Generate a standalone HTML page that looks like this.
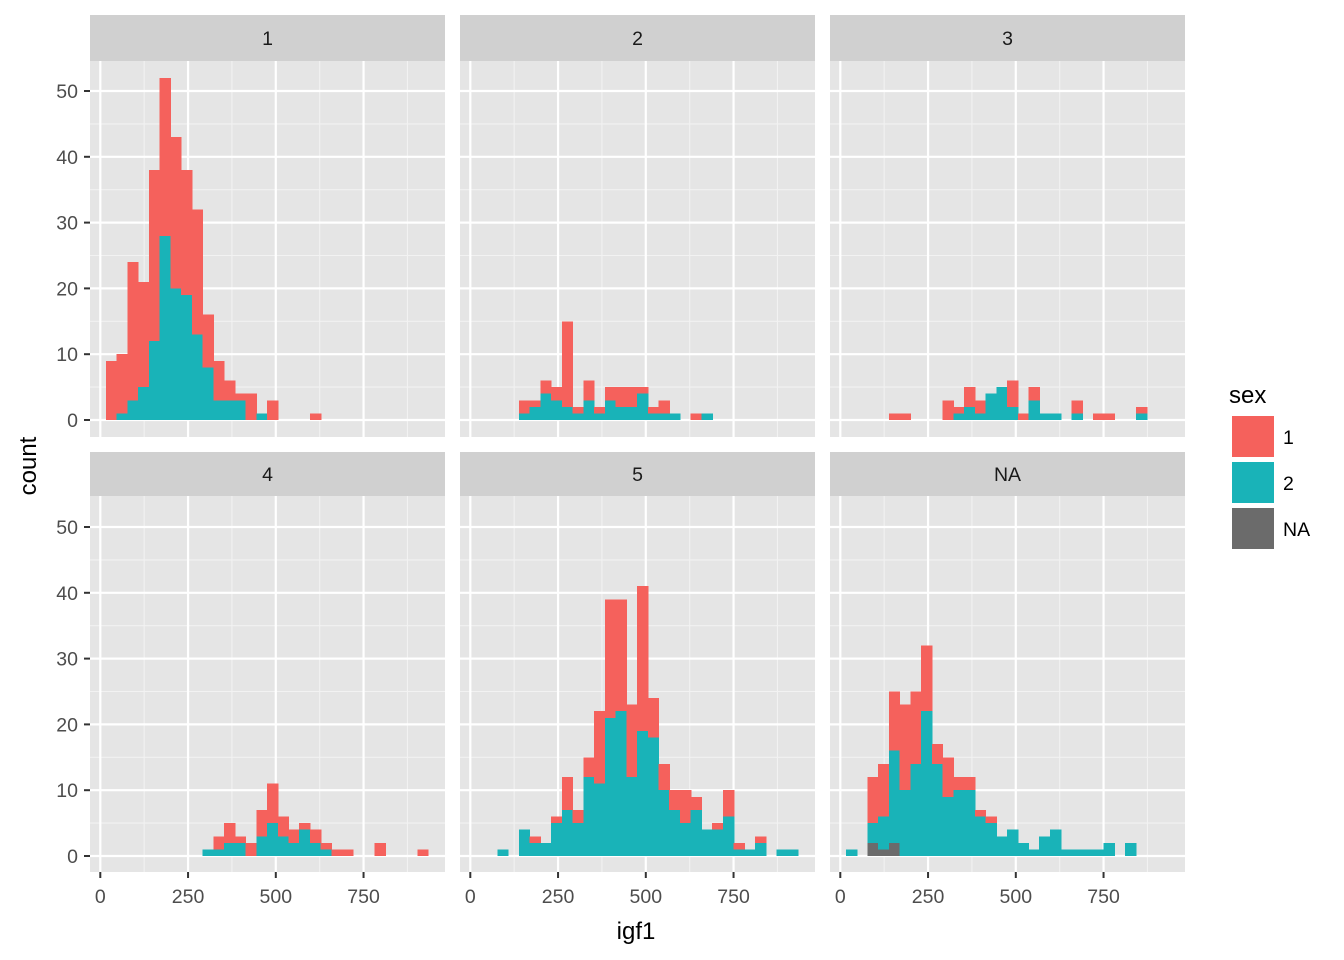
<!DOCTYPE html>
<html><head><meta charset="utf-8"><style>
body{margin:0;background:#fff}
svg{display:block;font-family:"Liberation Sans",Arial,sans-serif}
</style></head><body>
<svg id="chart" width="1344" height="960" xmlns="http://www.w3.org/2000/svg"></svg>
<script>
const panelLabels = ["1","2","3","4","5","NA"];
const binStart = 16;
const binWidth = 30.6;
const red1 = [9,9,21,16,26,24,23,19,19,8,6,3,1,4,0,3,0,0,0,1,0,0,0,0,0,0,0,0,0,0];
const teal1 = [0,1,3,5,12,28,20,19,13,8,3,3,3,0,1,0,0,0,0,0,0,0,0,0,0,0,0,0,0,0];
const red2 = [0,0,0,0,2,1,2,2,13,1,3,1,2,3,3,1,1,2,0,0,1,0,0,0,0,0,0,0,0,0];
const teal2 = [0,0,0,0,1,2,4,3,2,1,3,1,3,2,2,4,1,1,1,0,0,1,0,0,0,0,0,0,0,0];
const red3 = [0,0,0,0,1,1,0,0,0,3,1,3,2,0,0,4,1,2,0,0,0,2,0,1,1,0,0,1,0,0];
const teal3 = [0,0,0,0,0,0,0,0,0,0,1,2,1,4,5,2,0,3,1,1,0,1,0,0,0,0,0,1,0,0];
const red4 = [0,0,0,0,0,0,0,0,0,0,2,3,1,2,4,6,3,2,1,2,1,1,1,0,0,2,0,0,0,1];
const teal4 = [0,0,0,0,0,0,0,0,0,1,1,2,2,0,3,5,3,2,4,2,1,0,0,0,0,0,0,0,0,0];
const red5 = [0,0,0,0,0,1,0,1,5,2,3,11,18,17,11,22,6,4,3,5,2,0,1,4,1,0,1,0,0,0];
const teal5 = [0,0,1,0,4,2,2,5,7,5,12,11,21,22,12,19,18,10,7,5,7,4,4,6,1,1,2,0,1,1];
const red6 = [0,0,7,8,9,13,11,10,3,6,2,2,1,1,0,0,0,0,0,0,0,0,0,0,0,0,0,0,0,0];
const teal6 = [1,0,3,5,14,10,14,22,14,9,10,10,6,5,3,4,2,1,3,4,1,1,1,1,2,0,2,0,0,0];
const na6 = [0,0,2,1,2,0,0,0,0,0,0,0,0,0,0,0,0,0,0,0,0,0,0,0,0,0,0,0,0,0];
const xTicks = [0,250,500,750];
const yTicks = [0,10,20,30,40,50];
const legendLabels = ["1","2","NA"];

const NS="http://www.w3.org/2000/svg";
const svg=document.getElementById('chart');
function mk(tag,attrs,parent){const e=document.createElementNS(NS,tag);for(const k in attrs)e.setAttribute(k,attrs[k]);(parent||svg).appendChild(e);return e;}
const COL={red:"#f5615c",teal:"#19b3b8",na:"#6b6b6b"};
const colsX=[90,460,830], PW=355;
const rows=[{strip:15,top:61,bot:437,zero:420},{strip:452,top:496,bot:872,zero:856}];
const pxPerUnitY=6.58, pxPerUnitX=0.351;
const panels=[[red1,teal1,null],[red2,teal2,null],[red3,teal3,null],[red4,teal4,null],[red5,teal5,null],[red6,teal6,na6]];
function xs(c,v){return colsX[c]+10.3+v*pxPerUnitX;}
function ys(r,v){return rows[r].zero-v*pxPerUnitY;}

panels.forEach((pd,i)=>{
  const c=i%3,r=Math.floor(i/3),R=rows[r],x0=colsX[c];
  const g=mk('g',{});
  
  
  const bg=mk('rect',{x:x0,y:R.top,width:PW,height:R.bot-R.top,fill:"#e5e5e5"},g);
  
  
  for(let v=5;v<60;v+=10){const y=ys(r,v);if(y>R.top&&y<R.bot)mk('line',{x1:x0,x2:x0+PW,y1:y,y2:y,stroke:"#f2f2f2","stroke-width":1.1},g);}
  for(let v=125;v<1000;v+=250){const x=xs(c,v);if(x<x0+PW)mk('line',{x1:x,x2:x,y1:R.top,y2:R.bot,stroke:"#f2f2f2","stroke-width":1.1},g);}
  yTicks.forEach(v=>{const y=ys(r,v);mk('line',{x1:x0,x2:x0+PW,y1:y,y2:y,stroke:"#fff","stroke-width":2.2},g);});
  xTicks.forEach(v=>{const x=xs(c,v);mk('line',{x1:x,x2:x,y1:R.top,y2:R.bot,stroke:"#fff","stroke-width":2.2},g);});
  const [red,teal,na]=pd;
  for(let b=0;b<red.length;b++){
    const xa=xs(c,binStart+b*binWidth), xb=xs(c,binStart+(b+1)*binWidth);
    let base=0;
    const segs=[[na?na[b]:0,COL.na,'na'],[teal[b],COL.teal,'sex-2'],[red[b],COL.red,'sex-1']];
    segs.forEach(([n,col,nm])=>{
      if(n>0){
        const y1=ys(r,base+n),y0=ys(r,base);
        const rc=mk('rect',{x:xa,y:y1,width:xb-xa+0.6,height:y0-y1,fill:col,"shape-rendering":"crispEdges"},g);
        
        
        base+=n;
      }
    });
  }
  const st=mk('rect',{x:x0,y:R.strip,width:PW,height:R.top-R.strip,fill:"#d0d0d0"},g);
  
  
  const stt=mk('text',{x:x0+PW/2,y:R.strip+(R.top-R.strip)/2+7,"text-anchor":"middle","font-size":19.5,fill:"#1a1a1a"},g);
  stt.textContent=panelLabels[i];
  
  
  if(c===0){
    yTicks.forEach(v=>{const y=ys(r,v);
      mk('line',{x1:x0-6,x2:x0,y1:y,y2:y,stroke:"#333","stroke-width":2},g);
      const t=mk('text',{x:x0-12,y:y+7,"text-anchor":"end","font-size":19.5,fill:"#4d4d4d"},g);
      t.textContent=v;
      
      
    });
  }
  if(r===1){
    xTicks.forEach(v=>{const x=xs(c,v);
      mk('line',{x1:x,x2:x,y1:R.bot,y2:R.bot+6,stroke:"#333","stroke-width":2},g);
      const t=mk('text',{x:x,y:R.bot+31,"text-anchor":"middle","font-size":19.5,fill:"#4d4d4d"},g);
      t.textContent=v;
      
      
    });
  }
});
const xt=mk('text',{x:636,y:939,"text-anchor":"middle","font-size":24,fill:"#000"});
xt.textContent="igf1";


const yt=mk('text',{x:36,y:466,"text-anchor":"middle","font-size":24,fill:"#000",transform:"rotate(-90 36 466)"});
yt.textContent="count";


const lt=mk('text',{x:1229,y:403,"font-size":24,fill:"#000"});
lt.textContent="sex";


[COL.red,COL.teal,COL.na].forEach((col,k)=>{
  const y=416+k*46;
  const r=mk('rect',{x:1232,y:y,width:42,height:41,fill:col});
  
  
  const t=mk('text',{x:1283,y:y+28,"font-size":19.5,fill:"#000"});
  t.textContent=legendLabels[k];
  
  
});
</script>
</body></html>
